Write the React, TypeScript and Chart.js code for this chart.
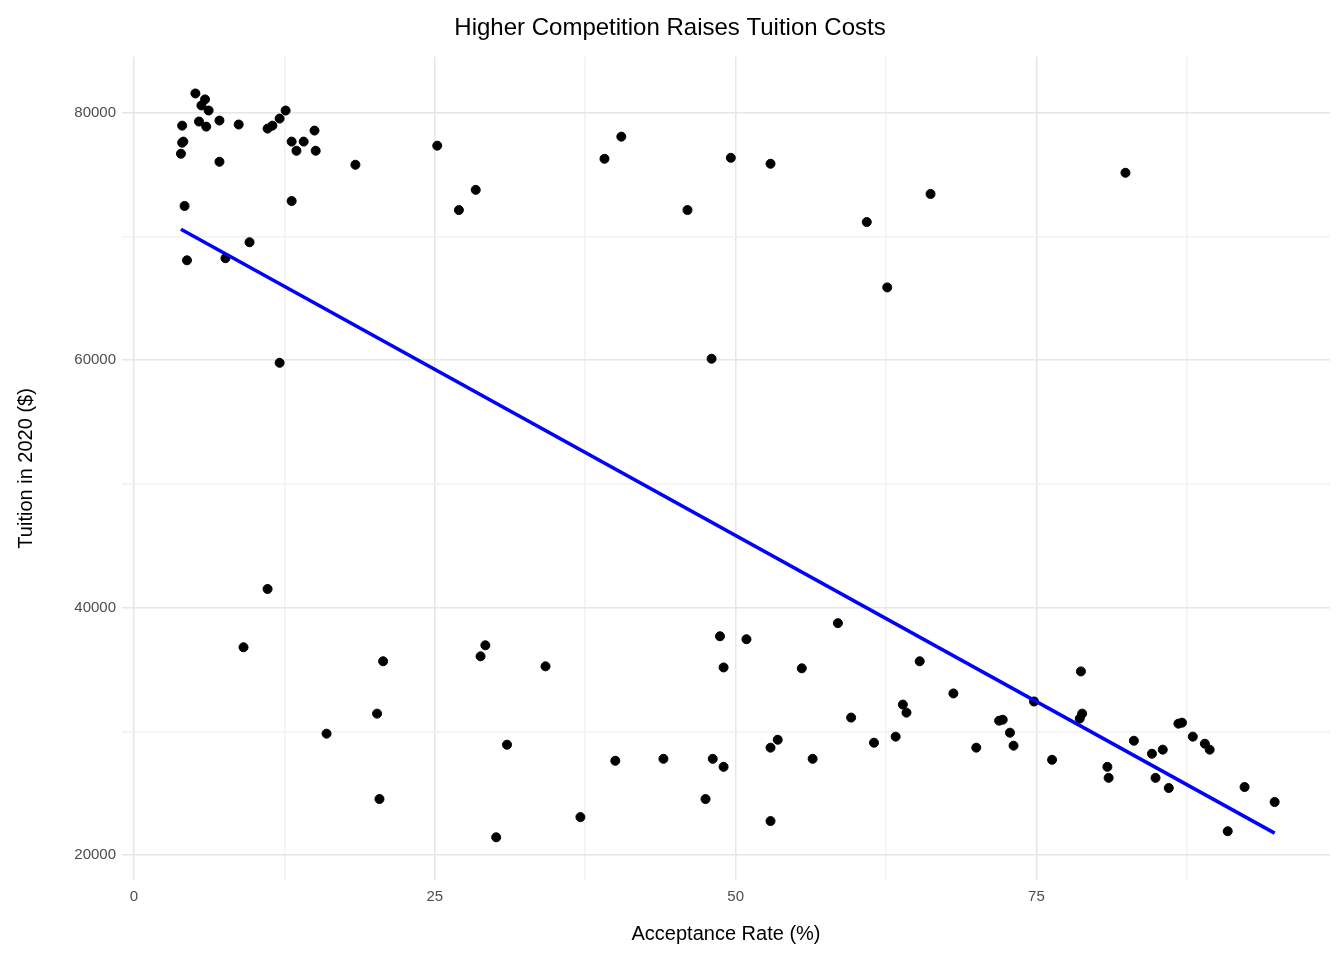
import React, { useEffect, useRef } from "react";
import { Chart, registerables } from "chart.js";
Chart.register(...registerables);

const acceptance = [4.0,4.0,3.9,4.1,4.2,4.4,5.1,5.4,5.6,5.9,6.0,6.2,7.1,7.1,7.6,8.7,9.6,9.1,11.1,11.5,12.1,12.6,12.1,11.1,13.1,13.5,13.1,14.1,15.0,15.1,16.0,18.4,20.2,20.4,20.7,25.2,27.0,28.4,28.8,29.2,30.1,31.0,34.2,37.1,39.1,40.0,40.5,44.0,46.0,47.5,48.0,48.1,48.7,49.0,49.0,49.6,50.9,52.9,52.9,52.9,53.5,55.5,56.4,58.5,59.6,60.9,61.5,62.6,63.3,63.9,64.2,65.3,66.2,68.1,70.0,71.9,72.2,72.8,73.1,74.8,76.3,78.6,78.8,78.7,80.9,81.0,82.4,83.1,84.6,84.9,85.5,86.0,86.8,87.1,88.0,89.0,89.4,90.9,92.3,94.8];
const tuition = [78940,77560,76670,77650,72450,68060,81540,79270,80570,81060,78860,80160,79350,76020,68230,79030,69520,36800,78700,78940,79510,80160,59780,41510,77650,76910,72850,77650,78540,76910,29820,75780,31440,24540,35670,77320,72120,73750,36070,36960,21450,28930,35260,23080,76260,27630,78050,27790,72120,24540,60110,27790,37690,35170,27140,76340,37450,75860,22760,28690,29330,35100,27790,38750,31120,71150,29090,65870,29580,32170,31520,35670,73420,33070,28690,30870,30950,29900,28850,32420,27710,31040,31440,34850,27140,26250,75130,29250,28200,26250,28530,25430,30630,30710,29580,29010,28530,21940,25510,24300];
const xTicks = [0, 12.5, 25, 37.5, 50, 62.5, 75, 87.5];
const yTicks = [20000, 30000, 40000, 50000, 60000, 70000, 80000];

function fit() {
  const n = acceptance.length;
  const mx = acceptance.reduce((a, b) => a + b, 0) / n;
  const my = tuition.reduce((a, b) => a + b, 0) / n;
  let sxy = 0, sxx = 0;
  for (let i = 0; i < n; i++) { sxy += (acceptance[i] - mx) * (tuition[i] - my); sxx += (acceptance[i] - mx) ** 2; }
  const b = sxy / sxx, a = my - b * mx;
  const x0 = Math.min(...acceptance), x1 = Math.max(...acceptance);
  return [{ x: x0, y: a + b * x0 }, { x: x1, y: a + b * x1 }];
}

export default function App() {
  const ref = useRef<HTMLCanvasElement>(null);
  useEffect(() => {
    document.body.style.margin = "0";
    const font = "Liberation Sans, Arial, sans-serif";
    const gridColor = (ctx: any) => (ctx.tick && ctx.tick.value % 25 === 0 && ctx.scale.axis === "x") || (ctx.scale.axis === "y" && ctx.tick && ctx.tick.value % 20000 === 0) ? "#e6e6e6" : "#f2f2f2";
    const chart = new Chart(ref.current!, {
      type: "scatter",
      data: {
        datasets: [
          { type: "line", data: fit(), borderColor: "#0000ff", borderWidth: 3.5, pointRadius: 0, order: 0 } as any,
          { data: acceptance.map((x, i) => ({ x, y: tuition[i] })), backgroundColor: "#000", borderColor: "#000", pointRadius: 4.5, order: 1 },
        ],
      },
      options: {
        responsive: false, animation: false,
        layout: { padding: { left: 10, right: 14, top: 14, bottom: 10 } },
        plugins: {
          legend: { display: false }, tooltip: { enabled: false },
          title: { display: true, text: "Higher Competition Raises Tuition Costs", color: "#000", font: { family: font, size: 24, weight: "normal" }, padding: { top: 0, bottom: 14 } },
        },
        scales: {
          x: {
            type: "linear", min: -1, max: 99.4,
            afterBuildTicks: (s: any) => { s.ticks = xTicks.map((v) => ({ value: v })); },
            afterFit: (s: any) => { s.height = 70; },
            ticks: { color: "#4d4d4d", font: { family: font, size: 15 }, padding: 8, callback: (v: any) => (v % 25 === 0 ? String(v) : "") },
            grid: { color: gridColor, lineWidth: 1.5, drawTicks: false }, border: { display: false },
            title: { display: true, text: "Acceptance Rate (%)", color: "#000", font: { family: font, size: 20 }, padding: { top: 6 } },
          },
          y: {
            type: "linear", min: 18000, max: 84500,
            afterBuildTicks: (s: any) => { s.ticks = yTicks.map((v) => ({ value: v })); },
            afterFit: (s: any) => { s.width = 112; },
            ticks: { color: "#4d4d4d", font: { family: font, size: 15 }, padding: 6, callback: (v: any) => (v % 20000 === 0 ? String(v) : "") },
            grid: { color: gridColor, lineWidth: 1.5, drawTicks: false }, border: { display: false },
            title: { display: true, text: "Tuition in 2020 ($)", color: "#000", font: { family: font, size: 20 }, padding: { bottom: 14 } },
          },
        },
      },
    });
    return () => chart.destroy();
  }, []);
  return <canvas ref={ref} width={1344} height={960} style={{ display: "block" }} />;
}
